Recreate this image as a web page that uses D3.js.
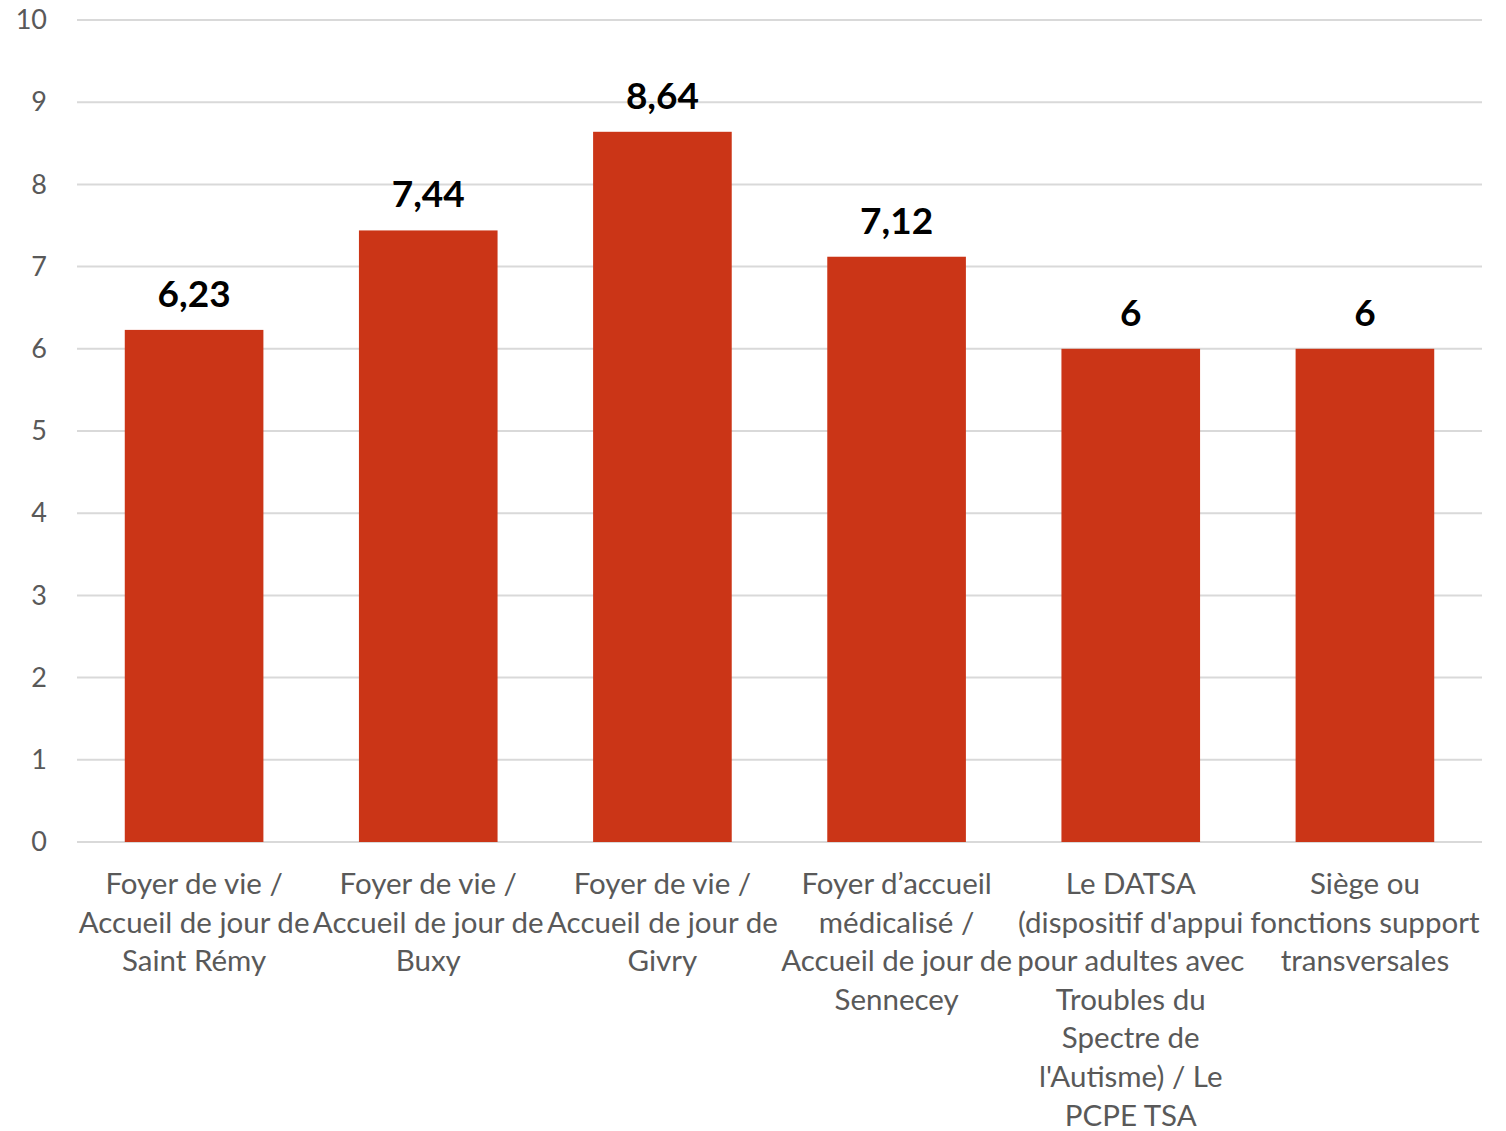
<!DOCTYPE html>
<html><head><meta charset="utf-8">
<script src="https://cdn.jsdelivr.net/npm/d3@7"></script>
<style>body{margin:0;background:#fff;} svg{display:block;}</style>
</head><body>
<svg id="c" width="1506" height="1131"></svg>
<script>
const categories = [
  ["Foyer de vie /", "Accueil de jour de", "Saint Rémy"],
  ["Foyer de vie /", "Accueil de jour de", "Buxy"],
  ["Foyer de vie /", "Accueil de jour de", "Givry"],
  ["Foyer d’accueil", "médicalisé /", "Accueil de jour de", "Sennecey"],
  ["Le DATSA", "(dispositif d'appui", "pour adultes avec", "Troubles du", "Spectre de", "l'Autisme) / Le", "PCPE TSA"],
  ["Siège ou", "fonctions support", "transversales"]
];
const values = [6.23, 7.44, 8.64, 7.12, 6, 6];
const valueLabels = ["6,23", "7,44", "8,64", "7,12", "6", "6"];
const yTicks = [0,1,2,3,4,5,6,7,8,9,10];

(function(){
const font = "Lato, 'Open Sans', sans-serif";
const svg = d3.select("#c");
const mLeft = 77, mRight = 1482, mTop = 20, mBottom = 842;
const x = d3.scaleBand().domain(d3.range(values.length)).range([mLeft, mRight]).paddingInner(0.408).paddingOuter(0.204);
const y = d3.scaleLinear().domain([0, 10]).range([mBottom, mTop]);

svg.append("g").selectAll("line").data(yTicks).join("line")
  .attr("x1", mLeft).attr("x2", mRight)
  .attr("y1", d => y(d)).attr("y2", d => y(d))
  .attr("stroke", "#d9d9d9").attr("stroke-width", 2);

const yAxis = svg.append("g").attr("transform", `translate(${mLeft - 30},0)`)
  .call(d3.axisLeft(y).tickValues(yTicks).tickSize(0).tickPadding(0));
yAxis.select(".domain").remove();
yAxis.selectAll("text").attr("font-family", font).attr("font-size", 27).attr("fill", "#595959");

svg.append("g").selectAll("rect").data(values).join("rect")
  .attr("x", (d,i) => x(i)).attr("width", x.bandwidth())
  .attr("y", d => y(d)).attr("height", d => y(0) - y(d))
  .attr("fill", "#cb3517");

svg.append("g").selectAll("text").data(values).join("text")
  .attr("x", (d,i) => x(i) + x.bandwidth()/2)
  .attr("y", d => y(d) - 23)
  .attr("text-anchor", "middle")
  .attr("font-family", font).attr("font-weight", "bold").attr("font-size", 37)
  .attr("fill", "#000")
  .text((d,i) => valueLabels[i]);

const cg = svg.append("g").selectAll("text").data(categories).join("text")
  .attr("text-anchor", "middle")
  .attr("font-family", font).attr("font-size", 29.5).attr("fill", "#595959");
cg.each(function(lines, i) {
  const t = d3.select(this);
  lines.forEach((ln, k) => {
    t.append("tspan").attr("x", x(i) + x.bandwidth()/2).attr("y", 894 + k*38.6).text(ln);
  });
});
})();
</script>
</body></html>
